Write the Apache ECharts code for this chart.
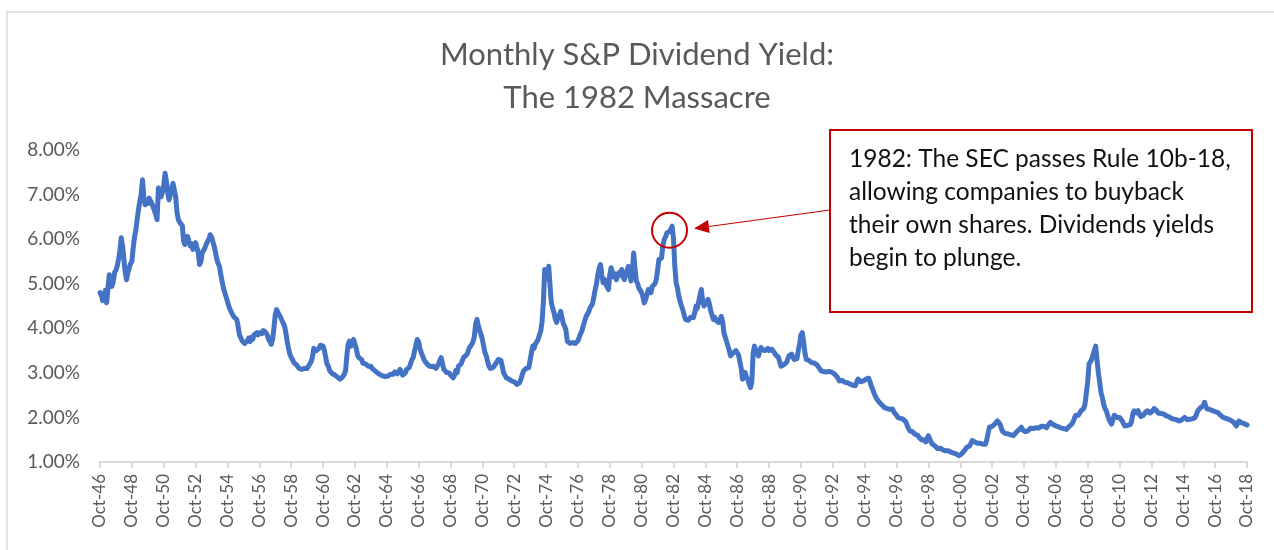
<!DOCTYPE html>
<html>
<head>
<meta charset="utf-8">
<title>Monthly S&amp;P Dividend Yield</title>
<script src="https://cdn.jsdelivr.net/npm/echarts@6/dist/echarts.min.js"></script>
<style>
  html, body { margin: 0; padding: 0; background: #fff; }
  #chart { width: 1274px; height: 550px; }
</style>
</head>
<body>
<div id="chart"></div>
<script>
// monthly dividend yield (%), Oct-46 .. Oct-18, one row per Oct..Sep year
const startYear = 1946
const startMonth = 9 // October
const monthNames = ['Jan', 'Feb', 'Mar', 'Apr', 'May', 'Jun', 'Jul', 'Aug', 'Sep', 'Oct', 'Nov', 'Dec']
const yieldValues = [
  4.80, 4.75, 4.62, 4.70, 4.85, 4.57, 4.90, 5.20, 5.24, 4.94, 5.05, 5.25,
  5.30, 5.40, 5.55, 5.75, 6.03, 5.85, 5.55, 5.25, 5.09, 5.25, 5.35, 5.45,
  5.50, 5.80, 6.05, 6.20, 6.45, 6.66, 6.85, 7.00, 7.33, 6.95, 6.77, 6.85,
  6.80, 6.92, 6.88, 6.80, 6.73, 6.70, 6.55, 6.44, 7.15, 7.10, 6.95, 7.05,
  7.20, 7.48, 7.30, 7.05, 6.88, 7.00, 7.15, 7.25, 7.29, 6.95, 6.60, 6.44,
  6.38, 6.36, 6.30, 5.95, 5.88, 6.00, 6.06, 5.95, 5.85, 5.90, 5.77, 5.85,
  5.92, 5.95, 5.70, 5.43, 5.50, 5.69, 5.72, 5.80, 5.88, 5.95, 6.00, 6.10,
  6.05, 5.95, 5.84, 5.70, 5.55, 5.45, 5.39, 5.20, 5.05, 4.90, 4.80, 4.70,
  4.60, 4.50, 4.42, 4.38, 4.30, 4.25, 4.22, 4.20, 4.05, 3.85, 3.79, 3.72,
  3.70, 3.66, 3.68, 3.72, 3.78, 3.70, 3.80, 3.75, 3.85, 3.82, 3.90, 3.85,
  3.90, 3.92, 3.88, 3.95, 3.98, 3.90, 3.85, 3.75, 3.70, 3.64, 3.75, 4.00,
  4.30, 4.42, 4.40, 4.30, 4.25, 4.18, 4.16, 4.05, 3.90, 3.70, 3.55, 3.42,
  3.35, 3.30, 3.23, 3.20, 3.18, 3.15, 3.10, 3.12, 3.08, 3.04, 3.10, 3.14,
  3.10, 3.15, 3.20, 3.25, 3.35, 3.55, 3.57, 3.50, 3.52, 3.55, 3.62, 3.64,
  3.60, 3.50, 3.35, 3.20, 3.15, 3.05, 3.02, 2.98, 3.00, 2.95, 2.97, 2.90,
  2.88, 2.86, 2.85, 2.92, 2.97, 3.05, 3.40, 3.65, 3.71, 3.60, 3.68, 3.75,
  3.72, 3.55, 3.40, 3.34, 3.36, 3.30, 3.22, 3.25, 3.20, 3.19, 3.15, 3.12,
  3.15, 3.10, 3.08, 3.05, 3.02, 3.00, 2.98, 2.96, 2.95, 2.93, 2.94, 2.92,
  2.95, 2.93, 2.96, 2.97, 2.94, 2.97, 3.02, 3.06, 2.98, 3.00, 3.08, 3.05,
  2.95, 2.97, 3.00, 3.08, 3.05, 3.12, 3.15, 3.30, 3.35, 3.50, 3.62, 3.75,
  3.70, 3.55, 3.45, 3.38, 3.30, 3.25, 3.22, 3.18, 3.16, 3.14, 3.12, 3.15,
  3.12, 3.10, 3.14, 3.20, 3.28, 3.34, 3.20, 3.08, 3.10, 3.01, 3.03, 3.00,
  2.95, 2.92, 2.89, 2.94, 3.05, 3.00, 3.15, 3.12, 3.20, 3.28, 3.35, 3.38,
  3.40, 3.45, 3.55, 3.52, 3.64, 3.70, 3.82, 4.10, 4.20, 4.05, 3.95, 3.86,
  3.75, 3.60, 3.45, 3.38, 3.25, 3.15, 3.10, 3.08, 3.12, 3.15, 3.20, 3.25,
  3.30, 3.34, 3.28, 3.15, 3.00, 2.95, 2.89, 2.90, 2.86, 2.85, 2.82, 2.84,
  2.80, 2.78, 2.74, 2.71, 2.78, 2.85, 2.95, 3.04, 3.00, 3.10, 3.08, 3.12,
  3.15, 3.45, 3.60, 3.55, 3.65, 3.70, 3.75, 3.85, 3.94, 4.15, 4.60, 5.32,
  5.10, 5.20, 5.39, 4.95, 4.57, 4.45, 4.35, 4.20, 4.13, 4.25, 4.30, 4.38,
  4.35, 4.10, 4.05, 3.95, 3.71, 3.68, 3.66, 3.70, 3.68, 3.65, 3.66, 3.68,
  3.72, 3.80, 3.88, 3.94, 4.05, 4.15, 4.25, 4.31, 4.36, 4.45, 4.50, 4.55,
  4.70, 4.87, 5.00, 5.20, 5.35, 5.43, 5.20, 5.02, 5.10, 5.00, 4.92, 4.87,
  5.20, 5.36, 5.25, 5.15, 5.22, 5.09, 5.18, 5.25, 5.20, 5.32, 5.15, 5.09,
  5.20, 5.30, 5.39, 5.25, 5.06, 5.30, 5.69, 5.35, 5.06, 5.00, 4.90, 4.85,
  4.80, 4.70, 4.57, 4.65, 4.75, 4.87, 4.85, 4.80, 4.94, 4.92, 5.00, 5.09,
  5.30, 5.54, 5.50, 5.58, 5.85, 5.99, 6.05, 6.14, 6.10, 6.17, 6.22, 6.29,
  6.00, 5.39, 5.02, 4.90, 4.72, 4.60, 4.50, 4.42, 4.30, 4.20, 4.22, 4.18,
  4.20, 4.25, 4.28, 4.24, 4.35, 4.50, 4.45, 4.60, 4.75, 4.87, 4.60, 4.50,
  4.55, 4.60, 4.65, 4.55, 4.40, 4.30, 4.20, 4.25, 4.18, 4.15, 4.13, 4.20,
  4.27, 4.15, 3.90, 3.80, 3.70, 3.68, 3.50, 3.38, 3.42, 3.45, 3.49, 3.50,
  3.45, 3.40, 3.38, 3.10, 2.86, 2.95, 3.01, 2.90, 2.85, 2.75, 2.67, 2.80,
  3.45, 3.60, 3.50, 3.45, 3.38, 3.50, 3.57, 3.52, 3.55, 3.50, 3.53, 3.55,
  3.50, 3.48, 3.53, 3.50, 3.45, 3.40, 3.42, 3.35, 3.25, 3.15, 3.12, 3.18,
  3.20, 3.23, 3.30, 3.38, 3.35, 3.42, 3.35, 3.30, 3.28, 3.32, 3.50, 3.65,
  3.85, 3.90, 3.70, 3.45, 3.30, 3.32, 3.28, 3.25, 3.23, 3.20, 3.22, 3.19,
  3.18, 3.15, 3.10, 3.05, 3.01, 3.03, 3.05, 3.02, 3.00, 3.03, 3.04, 3.02,
  3.00, 2.98, 2.97, 2.92, 2.88, 2.82, 2.85, 2.83, 2.80, 2.79, 2.80, 2.78,
  2.77, 2.75, 2.74, 2.72, 2.70, 2.71, 2.80, 2.86, 2.84, 2.80, 2.82, 2.82,
  2.84, 2.86, 2.85, 2.88, 2.80, 2.70, 2.63, 2.55, 2.48, 2.42, 2.38, 2.34,
  2.32, 2.28, 2.25, 2.22, 2.19, 2.20, 2.23, 2.18, 2.15, 2.19, 2.12, 2.08,
  2.05, 2.00, 2.02, 1.98, 2.00, 1.96, 1.96, 1.90, 1.82, 1.75, 1.70, 1.72,
  1.68, 1.65, 1.62, 1.63, 1.60, 1.55, 1.52, 1.50, 1.48, 1.50, 1.45, 1.52,
  1.59, 1.55, 1.45, 1.40, 1.38, 1.36, 1.33, 1.30, 1.29, 1.31, 1.30, 1.27,
  1.26, 1.25, 1.23, 1.25, 1.24, 1.22, 1.23, 1.20, 1.19, 1.18, 1.16, 1.14,
  1.15, 1.18, 1.22, 1.25, 1.28, 1.33, 1.30, 1.36, 1.42, 1.48, 1.51, 1.45,
  1.43, 1.42, 1.40, 1.42, 1.41, 1.40, 1.42, 1.40, 1.50, 1.65, 1.78, 1.82,
  1.80, 1.84, 1.85, 1.88, 1.92, 1.96, 1.85, 1.75, 1.68, 1.66, 1.64, 1.65,
  1.63, 1.64, 1.61, 1.60, 1.59, 1.62, 1.66, 1.70, 1.72, 1.75, 1.78, 1.72,
  1.70, 1.68, 1.66, 1.70, 1.74, 1.76, 1.78, 1.75, 1.74, 1.77, 1.78, 1.76,
  1.79, 1.80, 1.81, 1.80, 1.78, 1.77, 1.82, 1.86, 1.89, 1.87, 1.84, 1.82,
  1.81, 1.80, 1.79, 1.78, 1.76, 1.77, 1.75, 1.74, 1.73, 1.76, 1.80, 1.83,
  1.85, 1.90, 1.98, 2.05, 2.07, 2.05, 2.10, 2.15, 2.12, 2.20, 2.30, 2.34,
  2.80, 3.20, 3.25, 3.30, 3.40, 3.50, 3.60, 3.30, 3.01, 2.80, 2.56, 2.45,
  2.30, 2.20, 2.15, 2.05, 1.96, 1.90, 1.85, 1.95, 2.05, 2.07, 2.00, 1.98,
  2.00, 1.96, 1.92, 1.86, 1.81, 1.80, 1.82, 1.85, 1.84, 1.90, 2.08, 2.15,
  2.14, 2.10, 2.15, 2.08, 2.02, 2.00, 2.05, 2.10, 2.08, 2.15, 2.12, 2.10,
  2.11, 2.15, 2.20, 2.22, 2.15, 2.10, 2.07, 2.09, 2.06, 2.08, 2.05, 2.04,
  2.03, 2.02, 2.00, 1.98, 1.97, 1.96, 1.94, 1.95, 1.93, 1.92, 1.93, 1.95,
  1.96, 2.00, 1.98, 1.95, 1.94, 1.96, 1.98, 1.97, 1.99, 2.00, 2.08, 2.15,
  2.19, 2.22, 2.18, 2.26, 2.34, 2.25, 2.19, 2.17, 2.18, 2.16, 2.15, 2.14,
  2.13, 2.12, 2.11, 2.08, 2.05, 2.03, 2.00, 1.99, 1.98, 1.97, 1.96, 1.95,
  1.93, 1.90, 1.89, 1.86, 1.81, 1.84, 1.92, 1.90, 1.88, 1.87, 1.86, 1.85,
  1.83
]
const yTicks = { min: 1, max: 8, step: 1 }
const peakIndex = 429 // Jul-82, the circled peak
const peakValue = 6.2

const titleText = 'Monthly S&P Dividend Yield:\nThe 1982 Massacre'
const noteText = '1982: The SEC passes Rule 10b-18,\nallowing companies to buyback\ntheir own shares. Dividends yields\nbegin to plunge.'

// build month labels like "Oct-46"
const categories = yieldValues.map((v, i) => {
  const m = startMonth + i
  const yr = (startYear + Math.floor(m / 12)) % 100
  return monthNames[m % 12] + '-' + String(yr).padStart(2, '0')
})

const chart = echarts.init(document.getElementById('chart'))
const gray = '#595959'
const red = '#c00000'
const font = 'Lato, "Open Sans", sans-serif'

// arrow from the note box to the circled peak
const arrowFrom = [830, 210]
const arrowTo = [694, 228.5]
const dx = arrowTo[0] - arrowFrom[0]
const dy = arrowTo[1] - arrowFrom[1]
const len = Math.sqrt(dx * dx + dy * dy)
const ux = dx / len
const uy = dy / len
const headLen = 15
const headHalf = 6.5
const baseX = arrowTo[0] - ux * headLen
const baseY = arrowTo[1] - uy * headLen

const option = {
  animation: false,
  backgroundColor: '#fff',
  textStyle: { fontFamily: font },
  title: {
    text: titleText,
    left: 'center',
    top: 33,
    padding: 0,
    textStyle: {
      fontFamily: font,
      fontSize: 31,
      fontWeight: 'normal',
      color: gray,
      lineHeight: 43
    }
  },
  grid: {
    left: 100,
    right: 27,
    top: 150,
    bottom: 88
  },
  xAxis: {
    type: 'category',
    data: categories,
    boundaryGap: false,
    axisLine: { lineStyle: { color: '#d9d9d9', width: 2 } },
    axisTick: {
      interval: 23,
      length: 6,
      lineStyle: { color: '#d9d9d9', width: 2 }
    },
    axisLabel: {
      interval: 23,
      rotate: 90,
      margin: 12,
      fontSize: 17,
      color: gray,
      fontFamily: font
    },
    splitLine: { show: false }
  },
  yAxis: {
    type: 'value',
    min: yTicks.min,
    max: yTicks.max,
    interval: yTicks.step,
    axisLine: { show: false },
    axisTick: { show: false },
    splitLine: { show: false },
    axisLabel: {
      margin: 20,
      fontSize: 19,
      color: gray,
      fontFamily: font,
      formatter: v => v.toFixed(2) + '%'
    }
  },
  series: [
    {
      type: 'line',
      data: yieldValues,
      showSymbol: false,
      symbol: 'none',
      lineStyle: { color: '#4472c4', width: 5, cap: 'round', join: 'round' },
      markPoint: {
        symbol: 'circle',
        symbolSize: 35,
        silent: true,
        label: { show: false },
        itemStyle: { color: 'rgba(0,0,0,0)', borderColor: red, borderWidth: 2 },
        data: [{ coord: [peakIndex, peakValue] }]
      }
    }
  ],
  graphic: [
    {
      type: 'rect',
      shape: { x: 7, y: 12, width: 1300, height: 600 },
      style: { fill: 'none', stroke: '#d9d9d9', lineWidth: 1.5 },
      silent: true,
      z: -1
    },
    {
      type: 'line',
      shape: { x1: arrowFrom[0], y1: arrowFrom[1], x2: baseX, y2: baseY },
      style: { stroke: red, lineWidth: 1.2 },
      silent: true
    },
    {
      type: 'polygon',
      shape: {
        points: [
          arrowTo,
          [baseX - uy * headHalf, baseY + ux * headHalf],
          [baseX + uy * headHalf, baseY - ux * headHalf]
        ]
      },
      style: { fill: red },
      silent: true
    },
    {
      type: 'rect',
      shape: { x: 830, y: 130, width: 422, height: 182 },
      style: { fill: '#fff', stroke: red, lineWidth: 2 },
      silent: true
    },
    {
      type: 'text',
      x: 849,
      y: 143,
      style: {
        text: noteText,
        font: '24.5px ' + font,
        fill: '#111',
        lineHeight: 33
      },
      silent: true
    }
  ]
}

chart.setOption(option)
</script>
</body>
</html>
